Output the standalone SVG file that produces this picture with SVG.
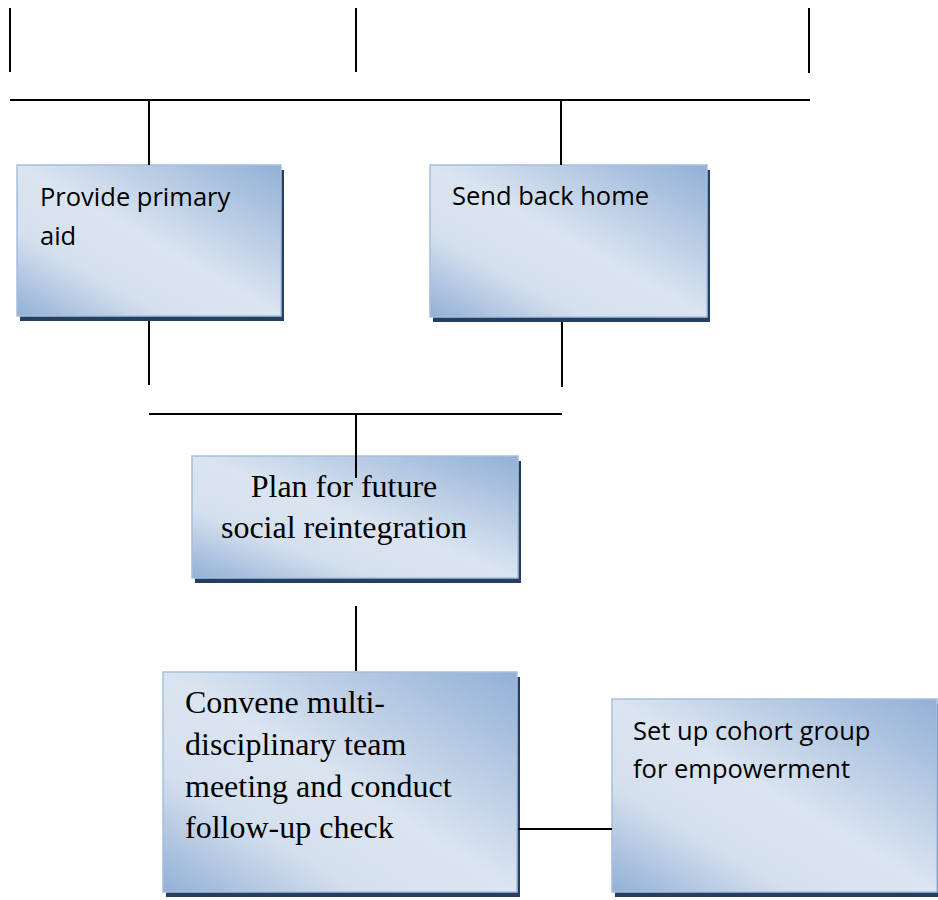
<svg xmlns="http://www.w3.org/2000/svg" width="938" height="900" viewBox="0 0 938 900">
<style>
.box{fill:url(#g);stroke:#a7bfde;stroke-width:1.5}
.sh{fill:#243f60}
.ln{stroke:#000;stroke-width:2;fill:none}
.sans{font-family:"Open Sans","Liberation Sans",sans-serif;font-size:25.5px;fill:#000}
.serif{font-family:"Liberation Serif","Times New Roman",serif;font-size:32px;fill:#000}
</style>
<defs>
<linearGradient id="g" x1="1" y1="0" x2="0" y2="1">
<stop offset="0" stop-color="#92b0d6"/>
<stop offset="0.5" stop-color="#dbe5f1"/>
<stop offset="0.72" stop-color="#d5e0ee"/>
<stop offset="1" stop-color="#92b0d6"/>
</linearGradient>
</defs>
<rect width="938" height="900" fill="#fff"/>
<g id="n1">
<rect class="sh" x="20" y="170" width="264" height="151"/>
<rect class="box" x="17" y="165" width="264" height="151"/>
<text class="sans" x="40" y="206">Provide primary</text>
<text class="sans" x="40" y="245">aid</text>
</g>
<g id="n2">
<rect class="sh" x="433" y="170" width="277" height="152"/>
<rect class="box" x="430" y="165" width="277" height="152"/>
<text class="sans" x="452" y="205">Send back home</text>
</g>
<g id="n3">
<rect class="sh" x="195" y="461" width="326" height="122"/>
<rect class="box" x="192" y="456" width="326" height="122"/>
<text class="serif" x="344" y="497" text-anchor="middle">Plan for future</text>
<text class="serif" x="344" y="538" text-anchor="middle">social reintegration</text>
</g>
<g id="n4">
<rect class="sh" x="166" y="677" width="354" height="220"/>
<rect class="box" x="163" y="672" width="354" height="220"/>
<text class="serif" x="185" y="713">Convene multi-</text>
<text class="serif" x="185" y="755">disciplinary team</text>
<text class="serif" x="185" y="797">meeting and conduct</text>
<text class="serif" x="185" y="838">follow-up check</text>
</g>
<g id="n5">
<rect class="sh" x="615" y="704" width="326" height="193"/>
<rect class="box" x="612" y="699" width="325" height="193"/>
<text class="sans" x="633" y="740">Set up cohort group</text>
<text class="sans" x="633" y="778">for empowerment</text>
</g>
<g id="connectors">
<line class="ln" x1="10" y1="8" x2="10" y2="72"/>
<line class="ln" x1="356" y1="8" x2="356" y2="72"/>
<line class="ln" x1="809" y1="8" x2="809" y2="73"/>
<line class="ln" x1="10" y1="100" x2="810" y2="100"/>
<line class="ln" x1="149" y1="100" x2="149" y2="165"/>
<line class="ln" x1="561" y1="100" x2="561" y2="165"/>
<line class="ln" x1="149" y1="321" x2="149" y2="385"/>
<line class="ln" x1="562" y1="322" x2="562" y2="387"/>
<line class="ln" x1="149" y1="414" x2="562" y2="414"/>
<line class="ln" x1="356" y1="414" x2="356" y2="478"/>
<line class="ln" x1="356" y1="606" x2="356" y2="671"/>
<line class="ln" x1="518" y1="829" x2="612" y2="829"/>
</g>
</svg>
